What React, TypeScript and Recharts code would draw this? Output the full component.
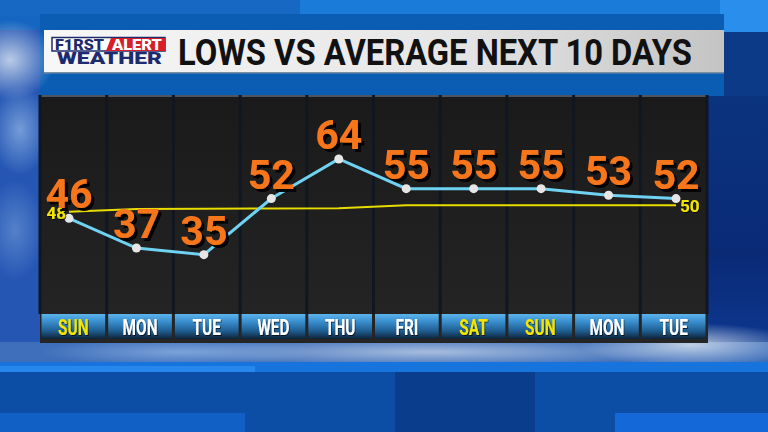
import React from "react";
import { CartesianGrid, LabelList, Line, LineChart, XAxis, YAxis } from "recharts";

// day columns, left to right
const DAYS = ["SUN", "MON", "TUE", "WED", "THU", "FRI", "SAT", "SUN", "MON", "TUE"];
const WEEKEND = [true, false, false, false, false, false, true, true, false, false];
// forecast lows and the normal low for each day (F)
const LOWS = [46, 37, 35, 52, 64, 55, 55, 55, 53, 52];
const NORMALS = [48, 48.8, 48.9, 49, 49.1, 50, 50, 50, 50, 50];

const TITLE = "LOWS VS AVERAGE NEXT 10 DAYS";

const W = 768;
const H = 432;
const PLOT_L = 40;
const PLOT_R = 707;
const PLOT_T = 95;
const PLOT_B = 314;
const AXIS_H = 28;
const CELL_W = (PLOT_R - PLOT_L) / DAYS.length;

const data = DAYS.map((day, i) => ({
  key: `${day}-${i}`,
  slot: i + 0.5,
  low: LOWS[i],
  normal: NORMALS[i],
}));

const FONT = "Roboto, 'DejaVu Sans', sans-serif";

function DayTick(props: any) {
  const { x, y, index } = props;
  const i = index ?? 0;
  return (
    <g>
      <rect x={x - CELL_W / 2 + 1.5} y={y} width={CELL_W - 3} height={25} fill="url(#stripGrad)" />
      <text
        transform={`translate(${x},${y + 21}) scale(0.7,1)`}
        textAnchor="middle"
        fontFamily={FONT}
        fontWeight={700}
        fontSize={22}
        fill={WEEKEND[i] ? "#f4e600" : "#ffffff"}
        filter="url(#softShadow)"
      >
        {DAYS[i]}
      </text>
    </g>
  );
}

function LowLabel(props: any) {
  const { x, y, value } = props;
  return (
    <text
      x={x}
      y={y - 10}
      textAnchor="middle"
      fontFamily={FONT}
      fontWeight={700}
      fontSize={41}
      fill="#f7761a"
      filter="url(#hardShadow)"
    >
      {value}
    </text>
  );
}

function NormalLabel(props: any) {
  const { x, y, value, index } = props;
  const first = index === 0;
  const last = index === DAYS.length - 1;
  if (!first && !last) return null;
  return (
    <text
      x={first ? x - 3 : x + 4}
      y={first ? y + 7 : y + 6.5}
      textAnchor={first ? "end" : "start"}
      fontFamily={FONT}
      fontWeight={700}
      fontSize={17}
      fill="#f2e600"
      filter="url(#softShadow)"
    >
      {Math.round(value)}
    </text>
  );
}

function Backdrop() {
  return (
    <svg width={W} height={H} style={{ position: "absolute", left: 0, top: 0 }}>
      <defs>
        <linearGradient id="bgMain" x1="0" y1="0" x2="0" y2="1">
          <stop offset="0" stopColor="#1468c4" />
          <stop offset="0.5" stopColor="#1c4fa8" />
          <stop offset="1" stopColor="#0b4aa4" />
        </linearGradient>
        <linearGradient id="rightSide" x1="0" y1="0" x2="0" y2="1">
          <stop offset="0" stopColor="#0b347e" />
          <stop offset="0.6" stopColor="#0a2a76" />
          <stop offset="1" stopColor="#0d3a94" />
        </linearGradient>
        <radialGradient id="cloud" cx="0.5" cy="0.5" r="0.5">
          <stop offset="0" stopColor="#dfe8f2" stopOpacity="0.8" />
          <stop offset="1" stopColor="#dfe8f2" stopOpacity="0" />
        </radialGradient>
        <radialGradient id="cloudBlue" cx="0.5" cy="0.5" r="0.5">
          <stop offset="0" stopColor="#8fb4e4" stopOpacity="0.75" />
          <stop offset="1" stopColor="#8fb4e4" stopOpacity="0" />
        </radialGradient>
        <linearGradient id="titleGrad" x1="0" y1="0" x2="1" y2="0">
          <stop offset="0" stopColor="#f7f7f7" />
          <stop offset="0.6" stopColor="#e6e6e6" />
          <stop offset="1" stopColor="#c4c4c4" />
        </linearGradient>
        <linearGradient id="panelGrad" x1="0" y1="0" x2="0" y2="1">
          <stop offset="0" stopColor="#1a1a1a" />
          <stop offset="1" stopColor="#252525" />
        </linearGradient>
      </defs>
      <rect x={0} y={0} width={W} height={H} fill="url(#bgMain)" />
      {/* top bright band */}
      <rect x={0} y={0} width={W} height={16} fill="#1a7bd8" />
      <rect x={0} y={0} width={300} height={16} fill="#1768c2" />
      <rect x={720} y={0} width={48} height={32} fill="#2a8eec" />
      {/* band behind title */}
      <rect x={40} y={14} width={684} height={82} fill="#0b5db4" />
      <rect x={724} y={32} width={44} height={64} fill="#0c3a86" />
      {/* right side */}
      <rect x={708} y={96} width={60} height={266} fill="url(#rightSide)" />
      {/* left cloud / pattern side */}
      <rect x={0} y={30} width={40} height={332} fill="#2556b4" />
      <ellipse cx={10} cy={60} rx={45} ry={40} fill="url(#cloud)" />
      <ellipse cx={20} cy={130} rx={30} ry={45} fill="url(#cloudBlue)" />
      <ellipse cx={15} cy={230} rx={30} ry={50} fill="url(#cloudBlue)" opacity={0.6} />
      {/* clouds under panel */}
      <rect x={0} y={342} width={W} height={22} fill="#3f6fba" />
      <ellipse cx={430} cy={352} rx={250} ry={15} fill="url(#cloud)" opacity={0.8} />
      <ellipse cx={690} cy={345} rx={110} ry={22} fill="url(#cloud)" />
      <ellipse cx={180} cy={352} rx={140} ry={14} fill="url(#cloudBlue)" />
      {/* bottom bands */}
      <rect x={0} y={362} width={W} height={10} fill="#1774dc" />
      <rect x={0} y={366} width={255} height={6} fill="#2688ec" />
      <rect x={0} y={372} width={W} height={60} fill="#0c4ea6" />
      <rect x={395} y={372} width={140} height={60} fill="#0a3e8c" />
      <rect x={0} y={413} width={245} height={19} fill="#1060c6" />
      <rect x={615} y={413} width={153} height={19} fill="#1568d8" />
      {/* title bar */}
      <rect x={44} y={30} width={680} height={43} fill="url(#titleGrad)" />
      <rect x={44} y={72} width={680} height={1.5} fill="#7c8ea6" />
      {/* logo */}
      <rect x={52} y={37.5} width={113} height={13.5} fill="#ffffff" stroke="#1c2a6e" strokeWidth={1.5} />
      <polygon points="111,38 165,38 165,51 106,51" fill="#d61f28" />
      <text x={55} y={49.5} fontFamily={FONT} fontWeight={900} fontSize={14} fill="#1c2a6e" textLength={49} lengthAdjust="spacingAndGlyphs">
        F1RST
      </text>
      <text x={112} y={49.5} fontFamily={FONT} fontWeight={900} fontSize={14} fill="#ffffff" textLength={50} lengthAdjust="spacingAndGlyphs">
        ALERT
      </text>
      <text x={57} y={63.5} fontFamily={FONT} fontWeight={900} fontSize={16.5} fill="#1c2a6e" textLength={105} lengthAdjust="spacingAndGlyphs">
        WEATHER
      </text>
      <text x={178} y={65} fontFamily={FONT} fontWeight={700} fontSize={36.5} fill="#111111" textLength={514} lengthAdjust="spacingAndGlyphs">
        {TITLE}
      </text>
      {/* chart panel */}
      <rect x={PLOT_L} y={PLOT_T} width={PLOT_R - PLOT_L + 1} height={248} fill="url(#panelGrad)" />
      <rect x={PLOT_L} y={PLOT_T} width={PLOT_R - PLOT_L + 1} height={2} fill="#8aa0bc" opacity={0.45} />
    </svg>
  );
}

export default function App() {
  return (
    <div style={{ position: "absolute", left: 0, top: 0, width: W, height: H, overflow: "hidden" }}>
      <Backdrop />
      <LineChart
        width={W}
        height={H}
        data={data}
        margin={{ top: PLOT_T, right: W - PLOT_R, bottom: H - PLOT_B - AXIS_H, left: PLOT_L }}
        style={{ position: "absolute", left: 0, top: 0 }}
      >
        <defs>
          <linearGradient id="stripGrad" x1="0" y1="0" x2="0" y2="1">
            <stop offset="0" stopColor="#5cb4ec" />
            <stop offset="0.3" stopColor="#3a8fcf" />
            <stop offset="0.7" stopColor="#1d5a8c" />
            <stop offset="1" stopColor="#0e2236" />
          </linearGradient>
          <filter id="hardShadow" x="-20%" y="-20%" width="150%" height="150%">
            <feDropShadow dx="3" dy="3" stdDeviation="0.6" floodColor="#000" floodOpacity="0.95" />
          </filter>
          <filter id="softShadow" x="-20%" y="-20%" width="150%" height="150%">
            <feDropShadow dx="1" dy="1" stdDeviation="0.6" floodColor="#000" floodOpacity="0.7" />
          </filter>
        </defs>
        <XAxis xAxisId="pts" dataKey="key" hide padding={{ left: 29, right: 31 }} />
        <XAxis
          xAxisId="grid"
          dataKey="slot"
          type="number"
          domain={[0, DAYS.length]}
          ticks={DAYS.slice(1).map((_, i) => i + 1)}
          allowDataOverflow
          hide
        />
        <XAxis
          xAxisId="days"
          dataKey="slot"
          type="number"
          domain={[0, DAYS.length]}
          ticks={data.map((d) => d.slot)}
          allowDataOverflow
          interval={0}
          height={AXIS_H}
          tickLine={false}
          axisLine={false}
          tickSize={0}
          tickMargin={0}
          tick={<DayTick />}
        />
        <YAxis yAxisId="t" domain={[17, 83.4]} allowDataOverflow hide />
        <CartesianGrid xAxisId="grid" yAxisId="t" horizontal={false} vertical stroke="#111722" strokeWidth={3} />
        <Line
          xAxisId="pts"
          yAxisId="t"
          dataKey="normal"
          type="linear"
          stroke="#e8dc00"
          strokeWidth={2}
          dot={false}
          isAnimationActive={false}
        >
          <LabelList dataKey="normal" content={<NormalLabel />} />
        </Line>
        <Line
          xAxisId="pts"
          yAxisId="t"
          dataKey="low"
          type="linear"
          stroke="#70d2f2"
          strokeWidth={3}
          dot={{ r: 4.5, fill: "#e6e6e6", stroke: "none" }}
          isAnimationActive={false}
        >
          <LabelList dataKey="low" content={<LowLabel />} />
        </Line>
      </LineChart>
    </div>
  );
}
